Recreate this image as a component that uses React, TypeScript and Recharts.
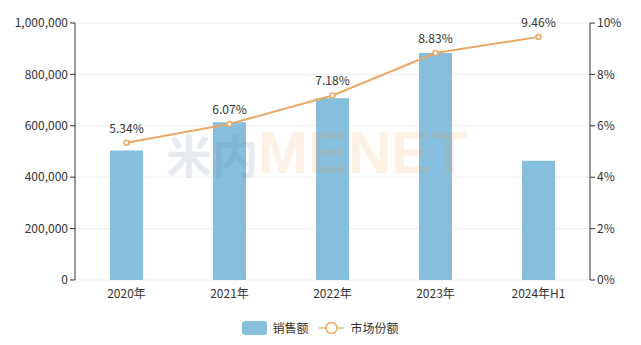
import {
  ComposedChart, Bar, Line, XAxis, YAxis, CartesianGrid, Legend, LabelList,
} from 'recharts'

const YEARS = ['2020年', '2021年', '2022年', '2023年', '2024年H1']
const SALES = [504000, 614000, 707000, 883000, 464000]
const SHARE = [5.34, 6.07, 7.18, 8.83, 9.46]
const LEFT_TICKS = [0, 200000, 400000, 600000, 800000, 1000000]
const RIGHT_TICKS = [0, 2, 4, 6, 8, 10]
const EDGE_TICKS = [0, 1, 2, 3, 4, 5]

const BAR_COLOUR = '#86bedd'
const LINE_COLOUR = '#e9a867'
const FONT = '"Noto Sans CJK SC", "Noto Sans", sans-serif'

const data = YEARS.map((name, i) => ({ name, sales: SALES[i], share: SHARE[i] }))

function LegendBox() {
  return (
    <div style={{ display: 'flex', justifyContent: 'center', alignItems: 'center', fontSize: 12, color: '#333', fontFamily: FONT }}>
      <span style={{ display: 'inline-block', width: 25, height: 14, borderRadius: 3, background: BAR_COLOUR, marginRight: 5 }} />
      <span style={{ marginRight: 10 }}>销售额</span>
      <svg width={25} height={14} style={{ marginRight: 7 }}>
        <line x1={0} y1={7} x2={25} y2={7} stroke={LINE_COLOUR} strokeWidth={2} opacity={0.6} />
        <circle cx={12.5} cy={7} r={5.5} fill="#fff" stroke={LINE_COLOUR} strokeWidth={1.5} />
      </svg>
      <span>市场份额</span>
    </div>
  )
}

export default function App() {
  const tick = { fontSize: 12, fill: '#333', fontFamily: FONT }
  return (
    <div style={{ position: 'absolute', left: 0, top: 0, width: 641, height: 345 }}>
      <ComposedChart width={641} height={345} data={data} margin={{ top: 23, right: 0, bottom: 18, left: 0 }}>
        <CartesianGrid vertical={false} stroke="#eeeeee" yAxisId="left" />
        <XAxis
          xAxisId="edge"
          type="number"
          domain={[0, 5]}
          ticks={EDGE_TICKS}
          tickFormatter={() => ''}
          height={0}
          tickSize={5}
          stroke="#333"
          allowDataOverflow
        />
        <XAxis
          dataKey="name"
          height={30}
          axisLine={false}
          tickLine={false}
          tick={tick}
          tickMargin={3}
          interval={0}
        />
        <YAxis
          yAxisId="left"
          width={75}
          domain={[0, 1000000]}
          ticks={LEFT_TICKS}
          tickFormatter={v => v.toLocaleString('en-US')}
          tick={tick}
          stroke="#333"
          tickSize={5}
        />
        <YAxis
          yAxisId="right"
          orientation="right"
          width={51}
          domain={[0, 10]}
          ticks={RIGHT_TICKS}
          tickFormatter={v => `${v}%`}
          tick={tick}
          stroke="#333"
          tickSize={5}
        />
        <Legend content={<LegendBox />} verticalAlign="bottom" wrapperStyle={{ bottom: 9 }} />
        <Bar yAxisId="left" dataKey="sales" fill={BAR_COLOUR} barSize={33} isAnimationActive={false} />
        <Line
          yAxisId="right"
          dataKey="share"
          stroke={LINE_COLOUR}
          strokeWidth={2}
          dot={{ r: 2.5, fill: '#fff', stroke: LINE_COLOUR, strokeWidth: 1.5 }}
          isAnimationActive={false}
        >
          <LabelList dataKey="share" position="top" offset={10} formatter={v => `${v}%`} style={{ fontSize: 12, fill: '#333', fontFamily: FONT }} />
        </Line>
      </ComposedChart>
      <div
        style={{
          position: 'absolute', left: 166, top: 118, pointerEvents: 'none',
          fontWeight: 'bold', fontFamily: '"Liberation Sans", Arial, sans-serif', whiteSpace: 'nowrap',
        }}
      >
        <span style={{ fontSize: 46, fontFamily: FONT, color: 'rgba(90,130,160,0.16)', verticalAlign: 'baseline' }}>米内</span>
        <span style={{ fontSize: 60, color: 'rgba(240,150,60,0.13)' }}>MENET</span>
      </div>
    </div>
  )
}
